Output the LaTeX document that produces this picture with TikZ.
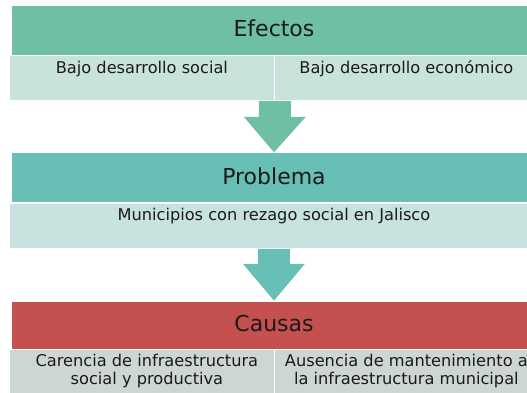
\documentclass[tikz,border=0pt]{standalone}
\usepackage{fontspec}
\setmainfont{DejaVu Sans}
\usetikzlibrary{calc}
\definecolor{efH}{HTML}{6FBFA5}
\definecolor{efS}{HTML}{C9E3DA}
\definecolor{prH}{HTML}{67BFB5}
\definecolor{prS}{HTML}{C8E2DF}
\definecolor{caH}{HTML}{C4504F}
\definecolor{caS}{HTML}{CED6D2}
\definecolor{txt}{HTML}{1A1A1A}
\begin{document}
\begin{tikzpicture}[x=1pt,y=-1pt,
  header/.style={rectangle, draw=white, line width=0.8pt, minimum width=526pt,
    inner sep=0pt, text height=13pt, text depth=0pt, text=txt,
    font=\fontsize{22}{26}\selectfont},
  cell/.style={rectangle, draw=white, line width=0.8pt, minimum height=45pt,
    inner sep=0pt, anchor=north west},
  stext/.style={font=\fontsize{16.2}{18.5}\selectfont, text=txt, anchor=base,
    align=center, inner sep=0pt}
]
\useasboundingbox (0,0) rectangle (527,393);
\clip (0,0) rectangle (527,393);

% Efectos
\node[header, fill=efH, minimum height=50pt] (eH) at (274,30) {Efectos};
\node[cell, fill=efS, minimum width=265pt] (eL) at (9,55) {};
\node[cell, fill=efS, minimum width=264pt] (eR) at (274,55) {};
\node[stext] (eLt) at ($(eL.north)+(0,18.3)$) {Bajo desarrollo social};
\node[stext] (eRt) at ($(eR.north)+(0,18.3)$) {Bajo desarrollo económico};

% Problema
\node[header, fill=prH, minimum height=50pt] (pH) at (274,177.7) {Problema};
\node[cell, fill=prS, minimum width=529pt] (pS) at (9,203) {};
\node[stext] (pSt) at ($(pS.north)+(0,17.3)$) {Municipios con rezago social en Jalisco};

% Causas
\node[header, fill=caH, minimum height=48pt] (cH) at (274,325) {Causas};
\node[cell, fill=caS, minimum width=265pt] (cL) at (9,349) {};
\node[cell, fill=caS, minimum width=264pt] (cR) at (274,349) {};
\node[stext] (cLt) at ($(cL.north)+(5,35.5)$) {Carencia de infraestructura\\social y productiva};
\node[stext] (cRt) at ($(cR.north)+(0,35.5)$) {Ausencia de mantenimiento a\\la infraestructura municipal};

% Arrows
\fill[efH] ($(eL.south east)+(-16,0)$) -- ++(32,0) -- ++(0,16) -- ++(15,0)
  -- (pH.north) -- ($(eL.south east)+(-31,16)$) -- ++(15,0) -- cycle;
\fill[prH] ($(pS.south)+(-16,0)$) -- ++(32,0) -- ++(0,15) -- ++(15,0)
  -- (cH.north) -- ($(pS.south)+(-31,15)$) -- ++(15,0) -- cycle;
\end{tikzpicture}
\end{document}
